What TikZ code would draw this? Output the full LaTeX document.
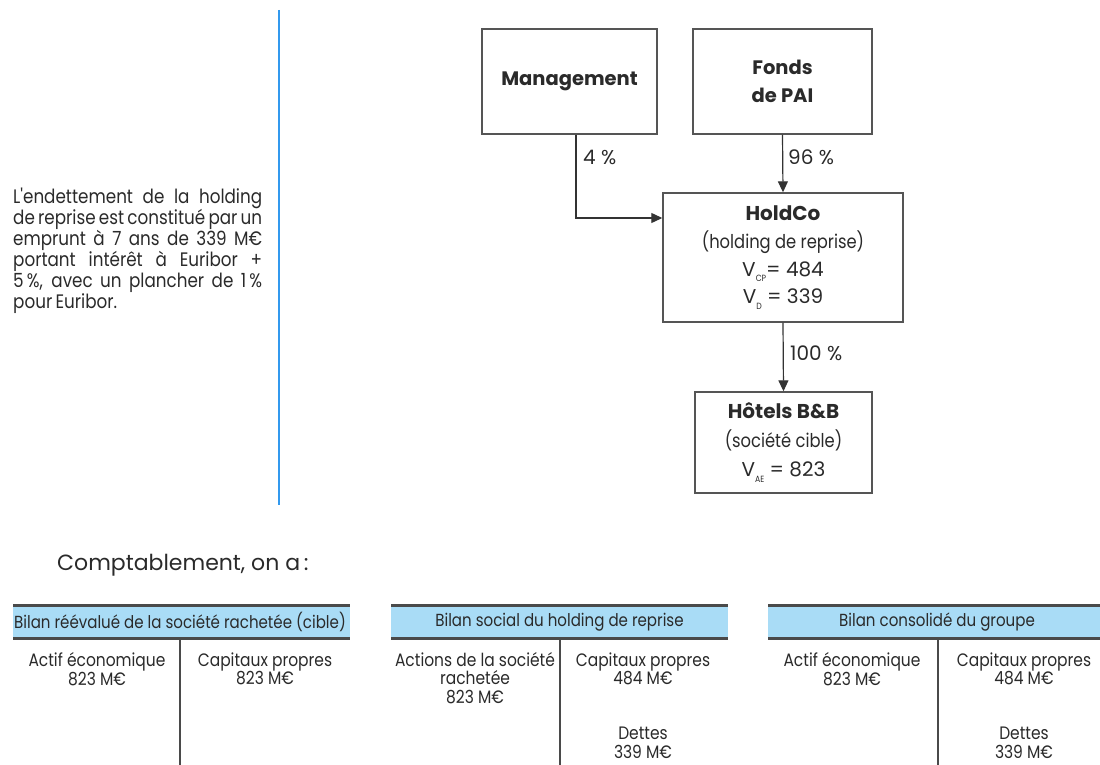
\documentclass[tikz,border=0pt]{standalone}
\usepackage{fontspec}
\setmainfont{Poppins}
\newfontfamily\cond{Poppins}[FakeStretch=0.86]
\newfontfamily\para{Poppins}[FakeStretch=0.86]
\usetikzlibrary{arrows.meta}
\definecolor{boxline}{HTML}{555555}
\definecolor{linkc}{HTML}{333333}
\definecolor{txt}{HTML}{2A2A2A}
\definecolor{sepblue}{HTML}{3399EE}
\definecolor{bandc}{HTML}{A9DCF6}
\definecolor{rulec}{HTML}{4A4A4A}
\newcommand{\sbs}[1]{\raisebox{-0.5ex}{\cond\fontsize{9}{9}\selectfont #1}}
\begin{document}
\begin{tikzpicture}[x=1pt,y=-1pt,
  orgbox/.style={draw=boxline, line width=1.4pt, inner sep=0pt, align=center, text=txt},
  link/.style={draw=linkc, line width=1.2pt, -{Triangle[length=11pt,width=10pt]}},
  lbl/.style={anchor=west, inner sep=0pt, text=txt, font=\fontsize{20}{20}\selectfont},
  cell/.style={align=center, inner sep=0pt, text=txt, font=\cond\fontsize{18}{18.5}\selectfont},
  headtxt/.style={inner sep=0pt, text=txt, font=\cond\fontsize{17.5}{17.5}\selectfont},
  rule/.style={draw=rulec, line width=3pt},
  divider/.style={draw=rulec, line width=2.6pt}]
\useasboundingbox (0,0) rectangle (1100,765);

% left note and blue separator
\node[anchor=north west, inner sep=0pt, text width=249pt, align=justify, text=txt,
      font=\para\fontsize{19.5}{21}\selectfont] (note) at (13,188)
 {\spaceskip=0.17em plus 2em minus 0.05em\relax
  L'endettement de la holding\linebreak
  de reprise est constitué par un\linebreak
  emprunt à 7 ans de 339 M€\linebreak
  portant intérêt à Euribor +\linebreak
  5\,\%, avec un plancher de 1\,\%\linebreak
  pour Euribor.};
\draw[sepblue, line width=2.2pt] (279,10) -- (279,505);

% organisation chart
\node[orgbox, minimum width=175pt, minimum height=105pt, font=\bfseries\fontsize{19.5}{28}\selectfont] (mgmt) at (569.5,81.5) {Management};
\node[orgbox, minimum width=179pt, minimum height=105pt, font=\bfseries\fontsize{19.5}{28}\selectfont] (fonds) at (782.5,81.5) {Fonds\\de PAI};
\node[orgbox, minimum width=240pt, minimum height=129pt, font=\fontsize{20}{27.7}\selectfont] (holdco) at (783,257.5)
 {{\bfseries HoldCo}\\{\cond\fontsize{19}{27.7}\selectfont (holding de reprise)}\\V\sbs{CP}= 484\\V\sbs{D} = 339};
\node[orgbox, minimum width=177pt, minimum height=101pt, font=\fontsize{20}{29}\selectfont] (hotels) at (783.5,442.5)
 {{\bfseries Hôtels B\&B}\\{\cond\fontsize{19}{29}\selectfont (société cible)}\\V\sbs{AE} = 823};

\draw[link] ([xshift=6.5pt]mgmt.south) |- ([yshift=39.5pt]holdco.west);
\draw[link] (fonds.south) -- (holdco.north);
\draw[link] (holdco.south) -- (hotels.north);
\node[lbl] (p4) at (583,157) {4 \%};
\node[lbl] (p96) at (788,157) {96 \%};
\node[lbl] (p100) at (790,353) {100 \%};

% Comptablement
\node[anchor=west, inner sep=0pt, text=txt, font=\fontsize{22}{22}\selectfont] (compta) at (57,565) {Comptablement, on a\,:};

% balance sheets
\fill[bandc] (13,605) rectangle (350,638);
\draw[rule] (13,605) -- (350,605);
\draw[rule] (13,638) -- (350,638);
\draw[divider] (180,638) -- (180,766);
\node[headtxt] (h1) at (180,622) {Bilan réévalué de la société rachetée (cible)};
\node[cell] (c11) at (97,669) {Actif économique\\823 M€};
\node[cell] (c12) at (265,669) {Capitaux propres\\823 M€};

\fill[bandc] (391,605) rectangle (728,638);
\draw[rule] (391,605) -- (728,605);
\draw[rule] (391,638) -- (728,638);
\draw[divider] (560,638) -- (560,766);
\node[headtxt] (h2) at (559.5,622) {Bilan social du holding de reprise};
\node[cell] (c21) at (475,678) {Actions de la société\\rachetée\\823 M€};
\node[cell] (c22) at (643,669) {Capitaux propres\\484 M€};
\node[cell] (c23) at (643,743) {Dettes\\339 M€};

\fill[bandc] (768,605) rectangle (1100,638);
\draw[rule] (768,605) -- (1100,605);
\draw[rule] (768,638) -- (1100,638);
\draw[divider] (938,638) -- (938,766);
\node[headtxt] (h3) at (937,622) {Bilan consolidé du groupe};
\node[cell] (c31) at (852,669) {Actif économique\\823 M€};
\node[cell] (c32) at (1024,669) {Capitaux propres\\484 M€};
\node[cell] (c33) at (1024,743) {Dettes\\339 M€};
\end{tikzpicture}
\end{document}
